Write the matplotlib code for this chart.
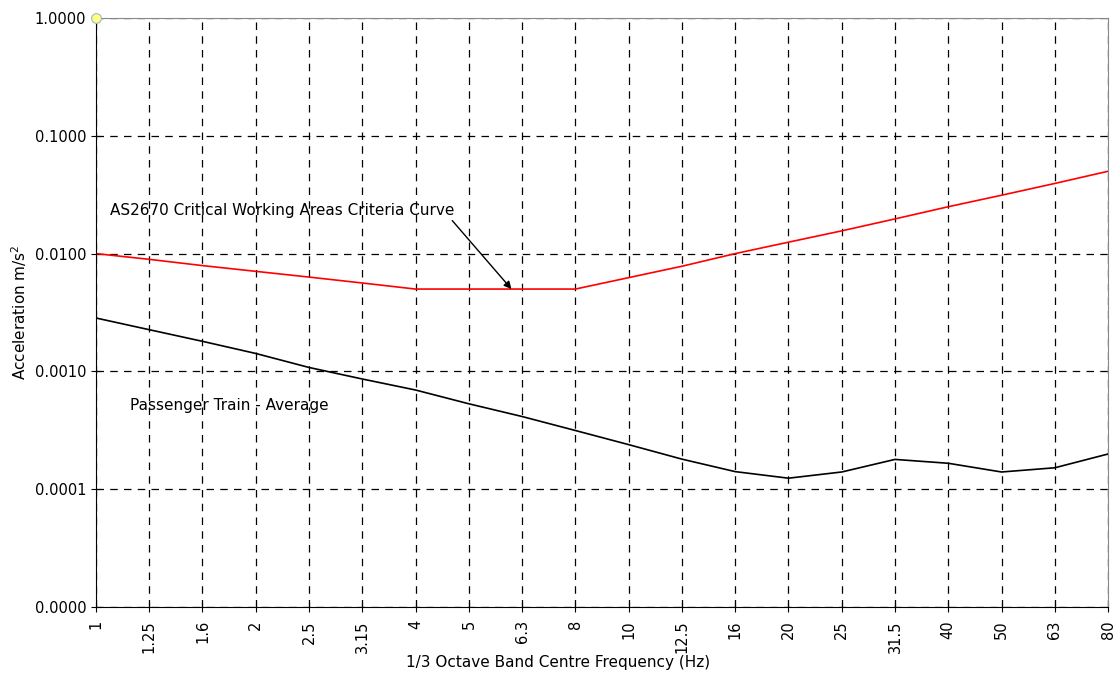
import numpy as np
import matplotlib.pyplot as plt

# 1/3 octave band centre frequencies
bands = ['1', '1.25', '1.6', '2', '2.5', '3.15', '4', '5', '6.3', '8',
         '10', '12.5', '16', '20', '25', '31.5', '40', '50', '63', '80']

# AS2670 critical working areas criteria curve (m/s^2)
criteria = [0.0100, 0.00894, 0.00791, 0.00707, 0.00632, 0.00563, 0.0050, 0.0050, 0.0050, 0.0050,
            0.00625, 0.00781, 0.0100, 0.0125, 0.0156, 0.0197, 0.0250, 0.0313, 0.0394, 0.0500]

# passenger train average (m/s^2)
train = [0.00284, 0.00226, 0.00180, 0.00142, 0.00108, 0.000862, 0.000695, 0.000531, 0.000414, 0.000315,
         0.000239, 0.000180, 0.000141, 0.000124, 0.000140, 0.000179, 0.000166, 0.000140, 0.000152, 0.000199]

yticks = [0.00001, 0.0001, 0.001, 0.01, 0.1, 1.0]

x = np.arange(len(bands))

fig = plt.figure(figsize=(11.17, 6.77), dpi=100)
ax = fig.add_axes([0.0859, 0.1034, 0.9061, 0.87])

ax.plot(x, criteria, color='red', lw=1.2)
ax.plot(x, train, color='black', lw=1.2)
ax.plot([0], [1.0], 'o', ms=7, mfc='#ffff80', mec='#99bbcc', mew=0.8, clip_on=False, zorder=5)

ax.set_yscale('log')
ax.set_ylim(0.00001, 1.0)
ax.set_xlim(0, len(bands) - 1)
ax.set_yticks(yticks)
ax.set_yticklabels(['%.4f' % v for v in yticks])
ax.minorticks_off()
ax.set_xticks(x)
ax.set_xticklabels(bands, rotation=90)
ax.tick_params(direction='inout', length=7, labelsize=10.5, colors='black')
ax.tick_params(axis='x', pad=6)

ax.grid(True, color='black', ls=(0, (6, 5)), lw=0.9)
ax.spines['top'].set_color('#888888')
ax.spines['right'].set_color('#888888')

fig.text(0.5, 1 - 663 / 677, '1/3 Octave Band Centre Frequency (Hz)', fontsize=11, ha='center', va='center')
ax.set_ylabel('Acceleration m/s$^2$', fontsize=11)

ax.annotate('AS2670 Critical Working Areas Criteria Curve', xy=(7.8, 0.005), xytext=(0.26, 0.0233),
            fontsize=11, va='center',
            arrowprops=dict(arrowstyle='-|>', color='black', lw=1, shrinkA=0, shrinkB=0,
                            relpos=(0.98, 0.2)))
ax.text(0.64, 0.00051, 'Passenger Train - Average', fontsize=11, va='center')

fig.savefig('out.png', dpi=100)
